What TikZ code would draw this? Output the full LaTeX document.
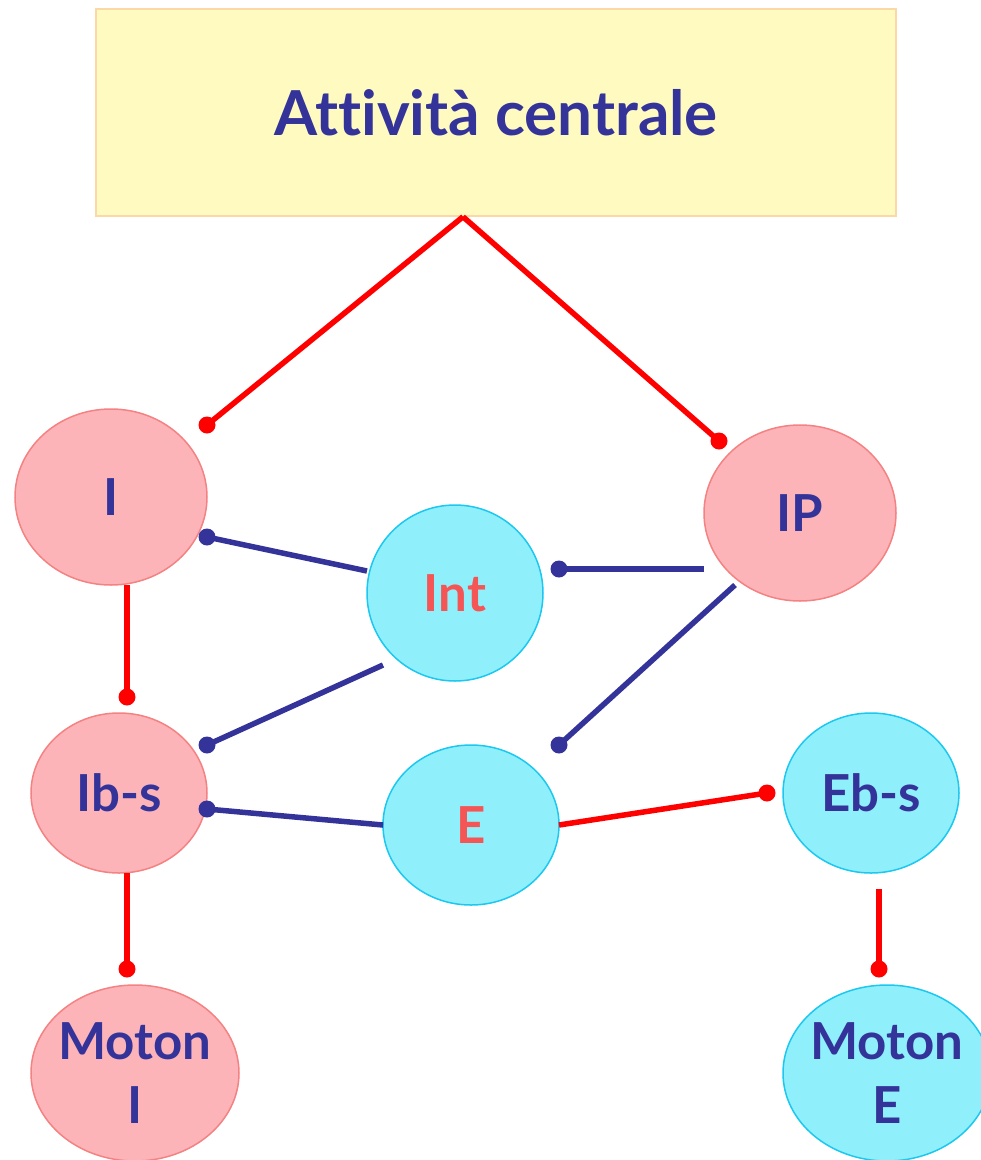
\documentclass[tikz,border=0pt]{standalone}
\usepackage{fontspec}
\setmainfont{Lato}[Ligatures=NoCommon]
\usetikzlibrary{shapes.geometric,calc}
\definecolor{boxfill}{HTML}{FFFBC0}
\definecolor{boxdraw}{HTML}{FCD8A8}
\definecolor{pinkfill}{HTML}{FCB4B8}
\definecolor{pinkdraw}{HTML}{F58282}
\definecolor{cyanfill}{HTML}{8FF0FC}
\definecolor{cyandraw}{HTML}{1CC8F0}
\definecolor{navy}{HTML}{333399}
\definecolor{txtred}{HTML}{F55555}
\definecolor{linered}{HTML}{FF0000}
\tikzset{
  lbl/.style={font=\fontsize{51}{64}\selectfont\bfseries, text=navy, align=center},
  pinknode/.style={ellipse, draw=pinkdraw, fill=pinkfill, line width=1.5pt, inner sep=0pt, lbl},
  cyannode/.style={ellipse, draw=cyandraw, fill=cyanfill, line width=1.5pt, inner sep=0pt, lbl},
  redline/.style={draw=linered, line width=5.5pt},
  blueline/.style={draw=navy, line width=5.5pt},
  reddot/.style={fill=linered},
  bluedot/.style={fill=navy},
}
\begin{document}
\begin{tikzpicture}[x=1pt,y=-1pt]
\useasboundingbox (0,0) rectangle (981,1160);
% top box
\node[draw=boxdraw, fill=boxfill, line width=1.5pt, minimum width=800pt, minimum height=207pt, inner sep=0pt,
      font=\fontsize{62}{70}\selectfont\bfseries, text=navy] (top) at (496,112.5) {Attività centrale};
% ellipses
\node[pinknode, minimum width=192pt, minimum height=176pt] (I) at (111,497) {I};
\node[pinknode, minimum width=192pt, minimum height=176pt] (IP) at (800,513) {IP};
\node[cyannode, minimum width=176pt, minimum height=176pt, text=txtred] (Int) at (455,593) {Int};
\node[pinknode, minimum width=176pt, minimum height=160pt] (Ibs) at (119,793) {Ib-s};
\node[cyannode, minimum width=176pt, minimum height=160pt, text=txtred] (E) at (471,825) {E};
\node[cyannode, minimum width=176pt, minimum height=160pt] (Ebs) at (871,793) {Eb-s};
\node[pinknode, minimum width=208pt, minimum height=176pt, label={[lbl]center:Moton\\I}] (MI) at (135,1073) {};
\node[cyannode, minimum width=208pt, minimum height=176pt, label={[lbl]center:Moton\\E}] (ME) at (887,1073) {};
% coordinates
\coordinate (apex) at ($(top.south)+(-33,0)$);
\coordinate (dI) at ($(I.center)+(96,-72)$);
\coordinate (dIP) at ($(IP.center)+(-81,-72)$);
\coordinate (dIl) at ($(I.center)+(96,40)$);
\coordinate (dIbTop) at ($(Ibs.center)+(8,-96)$);
\coordinate (dIntR) at ($(Int.center)+(104,-24)$);
\coordinate (dIbUp) at ($(Ibs.center)+(88,-48)$);
\coordinate (dEUp) at ($(E.center)+(88,-80)$);
\coordinate (dIbR) at ($(Ibs.center)+(88,16)$);
\coordinate (dEbs) at ($(Ebs.center)+(-104,0)$);
\coordinate (dMI) at ($(MI.center)+(-8,-104)$);
\coordinate (dME) at ($(ME.center)+(-8,-104)$);
% red connectors
\draw[redline] (apex) -- (dI);
\fill[reddot] (dI) circle (8.5);
\draw[redline] (apex) -- (dIP);
\fill[reddot] (dIP) circle (8.5);
\draw[redline] ($(I.center)+(16,88)$) -- (dIbTop);
\fill[reddot] (dIbTop) circle (8.5);
\draw[redline] ($(E.center)+(88,0)$) -- (dEbs);
\fill[reddot] (dEbs) circle (8.5);
\draw[redline] ($(Ibs.center)+(8,80)$) -- (dMI);
\fill[reddot] (dMI) circle (8.5);
\draw[redline] ($(Ebs.center)+(8,96)$) -- (dME);
\fill[reddot] (dME) circle (8.5);
% blue connectors
\draw[blueline] ($(Int.center)+(-88,-22)$) -- (dIl);
\fill[bluedot] (dIl) circle (8.5);
\draw[blueline] ($(IP.center)+(-96,56)$) -- (dIntR);
\fill[bluedot] (dIntR) circle (8.5);
\draw[blueline] ($(Int.center)+(-72,72)$) -- (dIbUp);
\fill[bluedot] (dIbUp) circle (8.5);
\draw[blueline] ($(IP.center)+(-65,72)$) -- (dEUp);
\fill[bluedot] (dEUp) circle (8.5);
\draw[blueline] ($(E.center)+(-88,0)$) -- (dIbR);
\fill[bluedot] (dIbR) circle (8.5);
\end{tikzpicture}
\end{document}
